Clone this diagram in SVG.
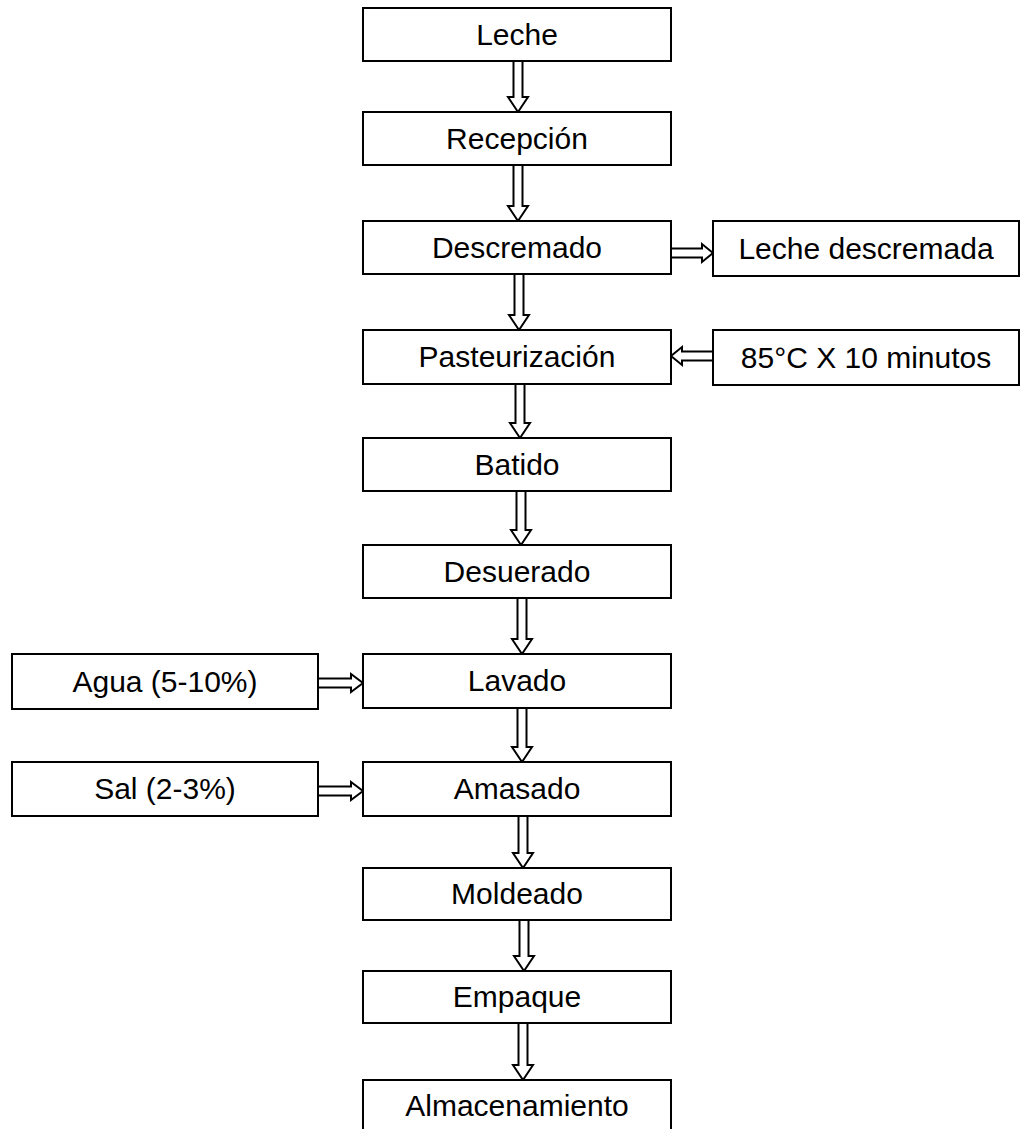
<svg xmlns="http://www.w3.org/2000/svg" width="1022" height="1129" viewBox="0 0 1022 1129">
<style>
.box{fill:#fff;stroke:#000;stroke-width:2}
.lbl{font-family:"Liberation Sans",Arial,sans-serif;font-size:30px;fill:#000;text-anchor:middle}
.arr{fill:#fff;stroke:#000;stroke-width:2;stroke-linejoin:miter}
</style>
<rect width="1022" height="1129" fill="#fff"/>
<g id="connectors">
<path class="arr" d="M513.5,61 H522.5 V97 H528 L518,112 L508,97 H513.5 Z"/>
<path class="arr" d="M513.5,165 H522.5 V206 H528 L518,221 L508,206 H513.5 Z"/>
<path class="arr" d="M514.5,274 H523.5 V315 H529 L519,330 L509,315 H514.5 Z"/>
<path class="arr" d="M515.5,384 H524.5 V423 H530 L520,438 L510,423 H515.5 Z"/>
<path class="arr" d="M516.5,491 H525.5 V530 H531 L521,545 L511,530 H516.5 Z"/>
<path class="arr" d="M517.5,598 H526.5 V639 H532 L522,654 L512,639 H517.5 Z"/>
<path class="arr" d="M517.5,708 H526.5 V747 H532 L522,762 L512,747 H517.5 Z"/>
<path class="arr" d="M518.5,816 H527.5 V853 H533 L523,868 L513,853 H518.5 Z"/>
<path class="arr" d="M519.5,920 H528.5 V956 H534 L524,971 L514,956 H519.5 Z"/>
<path class="arr" d="M518.5,1023 H527.5 V1065 H533 L523,1080 L513,1065 H518.5 Z"/>
<path class="arr" d="M671,248.5 H702 V244 L713,253 L702,262 V257.5 H671 Z"/>
<path class="arr" d="M713,351.5 H682 V347 L671,356 L682,365 V360.5 H713 Z"/>
<path class="arr" d="M318,678.5 H351 V674 L363,683 L351,692 V687.5 H318 Z"/>
<path class="arr" d="M318,786.5 H351 V782 L363,791 L351,800 V795.5 H318 Z"/>
</g>
<g id="n-leche"><rect class="box" x="363" y="8" width="308" height="53"/><text class="lbl" x="517" y="45">Leche</text></g>
<g id="n-recepcion"><rect class="box" x="363" y="112" width="308" height="53"/><text class="lbl" x="517" y="149">Recepción</text></g>
<g id="n-descremado"><rect class="box" x="363" y="221" width="308" height="53"/><text class="lbl" x="517" y="258">Descremado</text></g>
<g id="n-leche-descremada"><rect class="box" x="713" y="221" width="306" height="55"/><text class="lbl" x="866" y="259">Leche descremada</text></g>
<g id="n-pasteurizacion"><rect class="box" x="363" y="330" width="308" height="54"/><text class="lbl" x="517" y="367">Pasteurización</text></g>
<g id="n-85c"><rect class="box" x="713" y="330" width="306" height="55"/><text class="lbl" x="866" y="368">85°C X 10 minutos</text></g>
<g id="n-batido"><rect class="box" x="363" y="438" width="308" height="53"/><text class="lbl" x="517" y="475">Batido</text></g>
<g id="n-desuerado"><rect class="box" x="363" y="545" width="308" height="53"/><text class="lbl" x="517" y="582">Desuerado</text></g>
<g id="n-agua"><rect class="box" x="12" y="654" width="306" height="55"/><text class="lbl" x="165" y="692">Agua (5-10%)</text></g>
<g id="n-lavado"><rect class="box" x="363" y="654" width="308" height="54"/><text class="lbl" x="517" y="691">Lavado</text></g>
<g id="n-sal"><rect class="box" x="12" y="762" width="306" height="54"/><text class="lbl" x="165" y="799">Sal (2-3%)</text></g>
<g id="n-amasado"><rect class="box" x="363" y="762" width="308" height="54"/><text class="lbl" x="517" y="799">Amasado</text></g>
<g id="n-moldeado"><rect class="box" x="363" y="868" width="308" height="52"/><text class="lbl" x="517" y="904">Moldeado</text></g>
<g id="n-empaque"><rect class="box" x="363" y="971" width="308" height="52"/><text class="lbl" x="517" y="1007">Empaque</text></g>
<g id="n-almacenamiento"><rect class="box" x="363" y="1080" width="308" height="60"/><text class="lbl" x="517" y="1116">Almacenamiento</text></g>
</svg>
